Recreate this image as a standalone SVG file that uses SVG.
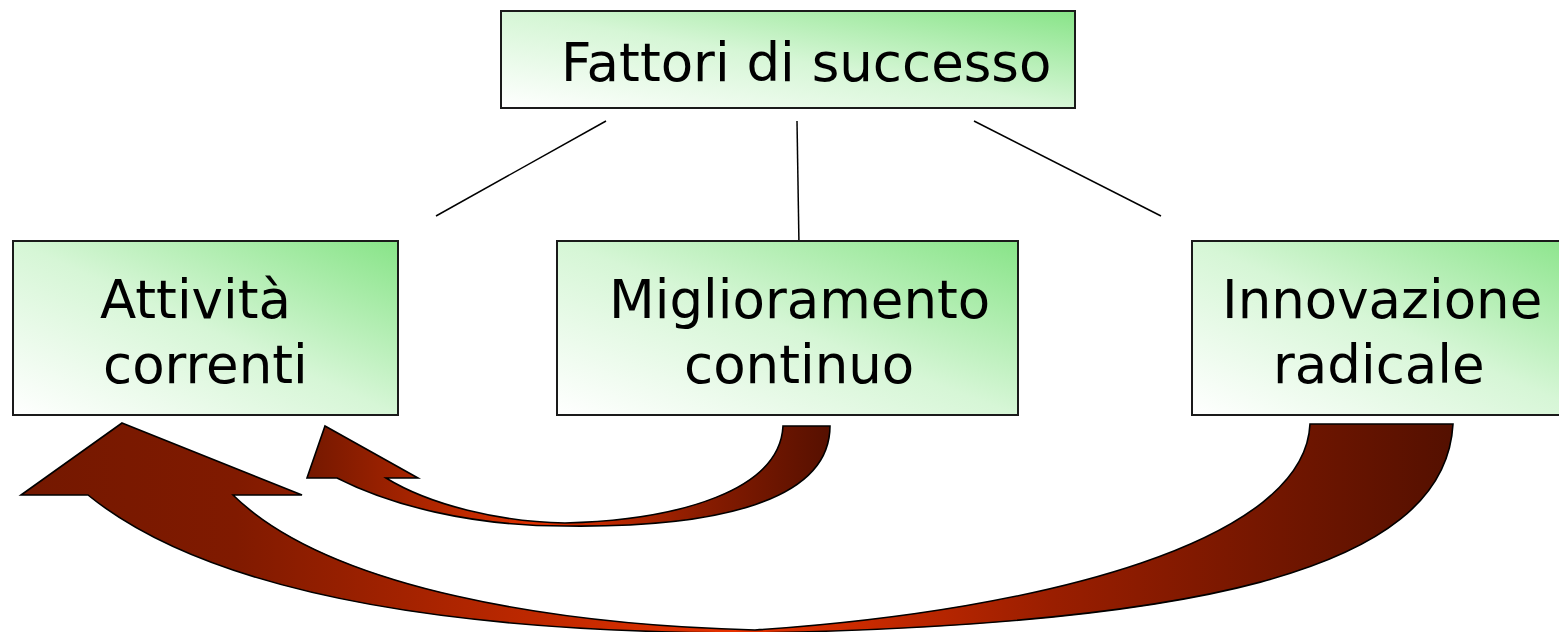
<svg xmlns="http://www.w3.org/2000/svg" width="1559" height="632" viewBox="0 0 1559 632">
<style>
.box{stroke:#1a1a1a;stroke-width:2;fill:url(#gBox)}
.lbl{font-family:"DejaVu Sans","Verdana",sans-serif;font-size:53px;fill:#000}
.conn{stroke:#000;stroke-width:1.5;fill:none}
.arr{stroke:#000;stroke-width:1.6;stroke-linejoin:miter}
</style>
<defs>
<linearGradient id="gBox" x1="0" y1="1" x2="1" y2="0">
<stop offset="0" stop-color="#ffffff"/>
<stop offset="0.5" stop-color="#d6f6d6"/>
<stop offset="1" stop-color="#88e488"/>
</linearGradient>
<linearGradient id="gBig" gradientUnits="userSpaceOnUse" x1="21" y1="0" x2="1453" y2="0">
<stop offset="0" stop-color="#741800"/>
<stop offset="0.15" stop-color="#801a00"/>
<stop offset="0.5" stop-color="#e83200"/>
<stop offset="0.72" stop-color="#9a1e00"/>
<stop offset="1" stop-color="#541000"/>
</linearGradient>
<linearGradient id="gSmall" gradientUnits="userSpaceOnUse" x1="307" y1="0" x2="830" y2="0">
<stop offset="0" stop-color="#741800"/>
<stop offset="0.45" stop-color="#e43200"/>
<stop offset="0.75" stop-color="#8a1c00"/>
<stop offset="1" stop-color="#561000"/>
</linearGradient>
</defs>

<g id="connectors">
<line class="conn" x1="606" y1="121" x2="436" y2="216"/>
<line class="conn" x1="797" y1="121" x2="799" y2="246"/>
<line class="conn" x1="974" y1="121" x2="1161" y2="216"/>
<path id="arrow-small" class="arr" fill="url(#gSmall)" d="M325,426 L418,478 L386,478 C430,505 500,522 565,523 C680,520 780,490 783,426 L830,426 C830,500 720,528 565,526 C470,526 390,505 337,478 L307,478 Z"/>
<path id="arrow-big" class="arr" fill="url(#gBig)" d="M122,423 L302,495 L233,495 C330,590 560,625 755,630 C1050,610 1305,540 1310,424 L1453,424 C1445,575 1180,625 755,633 C520,633 230,610 88,495 L21,495 Z"/>
</g>

<g id="node-fattori">
<rect class="box" x="501" y="11" width="574" height="97"/>
<text class="lbl" x="561" y="81">Fattori di successo</text>
</g>

<g id="node-attivita">
<rect class="box" x="13" y="241" width="385" height="174"/>
<text class="lbl" x="100" y="318">Attività</text>
<text class="lbl" x="103" y="383">correnti</text>
</g>

<g id="node-miglioramento">
<rect class="box" x="557" y="241" width="461" height="174"/>
<text class="lbl" x="609" y="318">Miglioramento</text>
<text class="lbl" x="684" y="383">continuo</text>
</g>

<g id="node-innovazione">
<rect class="box" x="1192" y="241" width="400" height="174"/>
<text class="lbl" x="1222" y="318">Innovazione</text>
<text class="lbl" x="1273" y="383">radicale</text>
</g>
</svg>
